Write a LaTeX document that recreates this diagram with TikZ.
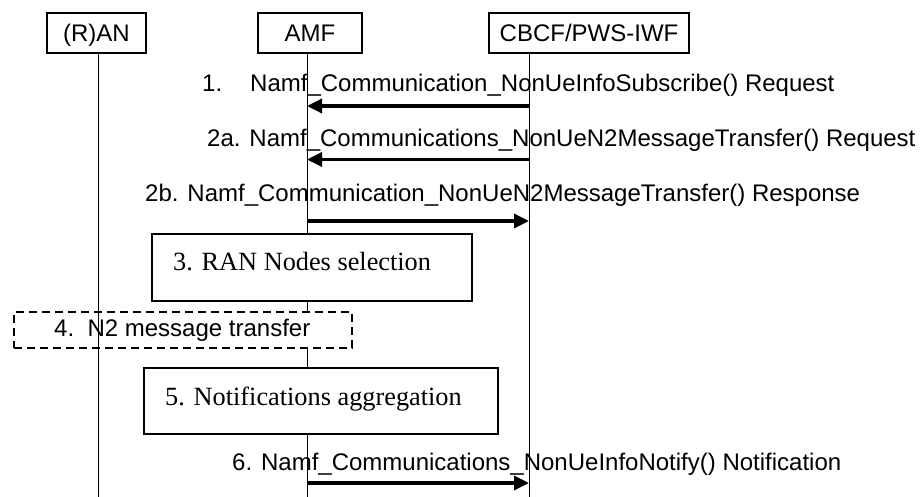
\documentclass[tikz,border=0pt]{standalone}
\usepackage{fontspec}
\setmainfont{Liberation Sans}
\newfontfamily\timesfont{Liberation Serif}
\usetikzlibrary{arrows.meta}
\begin{document}
\begin{tikzpicture}[x=1pt,y=-1pt,
  head/.style={draw, line width=2pt, minimum height=40pt, inner sep=0pt,
    font=\fontsize{24}{28}\selectfont, text height=17.2pt, text depth=0pt},
  life/.style={line width=1pt},
  msg/.style={line width=3.4pt, -{Triangle[length=15pt,width=14pt]}},
  lbl/.style={inner sep=0pt, anchor=base west, font=\fontsize{24}{28}\selectfont},
  procbox/.style={draw, line width=1.6pt, fill=white, inner sep=0pt},
  dbox/.style={draw, line width=1.4pt, dash pattern=on 8pt off 5pt, fill=white, inner sep=0pt},
  serif/.style={inner sep=0pt, anchor=base west, font=\timesfont\fontsize{26.3}{30}\selectfont}
]
\useasboundingbox (0,0) rectangle (920,497);
\fill[white] (0,0) rectangle (920,497);

% headers
\node[head, minimum width=99pt] (ran) at (96.5,33) {(R)AN};
\node[head, minimum width=104pt] (amf) at (310,33) {AMF};
\node[head, minimum width=200pt] (cbcf) at (589,33) {CBCF/PWS-IWF};

% lifeline tops and bottom level
\coordinate (lran) at (98,53);
\coordinate (lamf) at (307,53);
\coordinate (lcbcf) at (529,53);
\coordinate (bot) at (0,497);

% message levels
\coordinate (m1) at (0,106);
\coordinate (m2a) at (0,159.5);
\coordinate (m2b) at (0,221);
\coordinate (m6) at (0,483);

% labels
\node[lbl] (t1) at (202,91.6) {1.\hspace{28pt}Namf\_Communication\_NonUeInfoSubscribe() Request};
\node[lbl] (t2a) at (207,146.6) {2a. Namf\_Communications\_NonUeN2MessageTransfer() Request};
\node[lbl] (t2b) at (145,201.6) {2b. Namf\_Communication\_NonUeN2MessageTransfer() Response};
\node[lbl] (t6) at (232,470.6) {6. Namf\_Communications\_NonUeInfoNotify() Notification};

% lifelines AMF and CBCF
\draw[life] (lamf) -- (lamf |- bot);
\draw[life] (lcbcf) -- (lcbcf |- bot);

% boxes
\node[procbox, minimum width=320pt, minimum height=67pt] (s3) at (312,267.5) {};
\node[serif] (t3) at (173,270.6) {3. RAN Nodes selection};
\node[dbox, minimum width=338pt, minimum height=36pt] (s4) at (183,330) {};
\node[lbl] (t4) at (54,336.6) {4.\ \ N2 message transfer};
\node[procbox, minimum width=354pt, minimum height=66pt] (s5) at (321,401) {};
\node[serif] (t5) at (165,405.1) {5. Notifications aggregation};

% RAN lifeline on top
\draw[life] (lran) -- (lran |- bot);

% messages
\draw[msg] (lcbcf |- m1) -- (lamf |- m1);
\draw[msg] (lcbcf |- m2a) -- (lamf |- m2a);
\draw[msg] (lamf |- m2b) -- (lcbcf |- m2b);
\draw[msg] (lamf |- m6) -- (lcbcf |- m6);
\end{tikzpicture}
\end{document}
